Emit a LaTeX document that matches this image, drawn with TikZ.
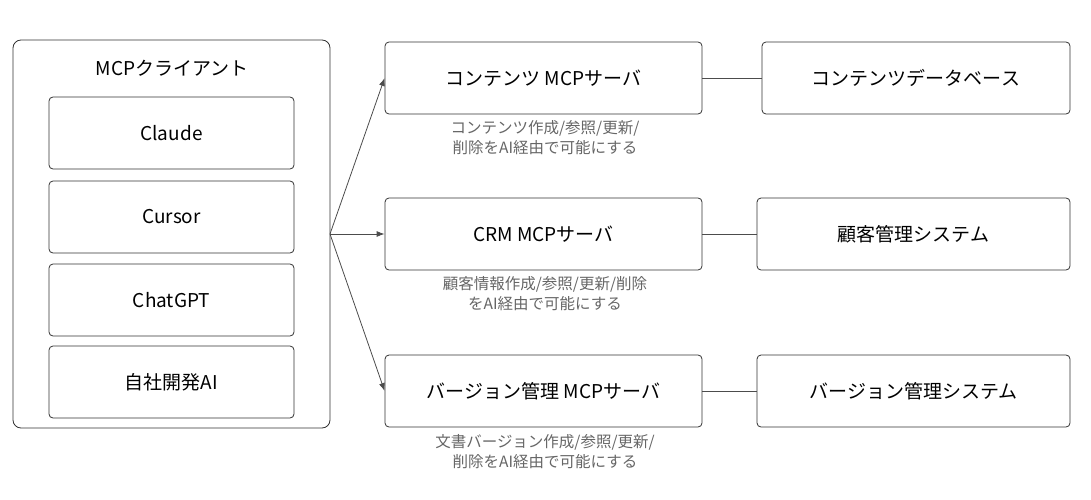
\documentclass[tikz,border=0pt]{standalone}
\usepackage{fontspec}
\setmainfont{Noto Sans CJK JP}
\usetikzlibrary{arrows.meta}
\begin{document}
\begin{tikzpicture}[x=1pt,y=-1pt,
 box/.style={draw=black!80,line width=0.8pt,rounded corners=4pt},
 lbl/.style={font=\fontsize{19}{22}\selectfont},
 note/.style={font=\fontsize{15.5}{20}\selectfont,text=black!60,align=center},
 arr/.style={draw=black!70,line width=0.8pt,-{Latex[length=8pt,width=6pt]}},
 ln/.style={draw=black!70,line width=0.8pt}]
\useasboundingbox (0,0) rectangle (1091,500);
\draw[box,rounded corners=8pt] (13,40) rectangle (330,428);
\node[lbl] (ct) at (172,68) {MCPクライアント};
\draw[box] (49,97) rectangle (294,169) node[midway,lbl] (c1) {Claude};
\draw[box] (49,181) rectangle (294,253) node[midway,lbl] (c2) {Cursor};
\draw[box] (49,264) rectangle (294,336) node[midway,lbl] (c3) {ChatGPT};
\draw[box] (49,346) rectangle (294,418) node[midway,lbl] (c4) {自社開発AI};
\coordinate (src) at (330,234);
\node[box,lbl,minimum width=317pt,minimum height=72pt] (s1) at (543.5,78) {コンテンツ MCPサーバ};
\node[box,lbl,minimum width=317pt,minimum height=72pt] (s2) at (543.5,234) {CRM MCPサーバ};
\node[box,lbl,minimum width=317pt,minimum height=72pt] (s3) at (543.5,391) {バージョン管理 MCPサーバ};
\node[box,lbl,minimum width=308pt,minimum height=72pt] (d1) at (916,78) {コンテンツデータベース};
\node[box,lbl,minimum width=313pt,minimum height=72pt] (d2) at (913.5,234) {顧客管理システム};
\node[box,lbl,minimum width=313pt,minimum height=72pt] (d3) at (913.5,391) {バージョン管理システム};
\draw[arr] (src) -- (s1.west);
\draw[arr] (src) -- (s2.west);
\draw[arr] (src) -- (s3.west);
\draw[ln] (s1) -- (d1);
\draw[ln] (s2) -- (d2);
\draw[ln] (s3) -- (d3);
\node[note] (n1) at (545,138) {コンテンツ作成/参照/更新/\\削除をAI経由で可能にする};
\node[note] (n2) at (545,294) {顧客情報作成/参照/更新/削除\\をAI経由で可能にする};
\node[note] (n3) at (545,452) {文書バージョン作成/参照/更新/\\削除をAI経由で可能にする};
\end{tikzpicture}
\end{document}
